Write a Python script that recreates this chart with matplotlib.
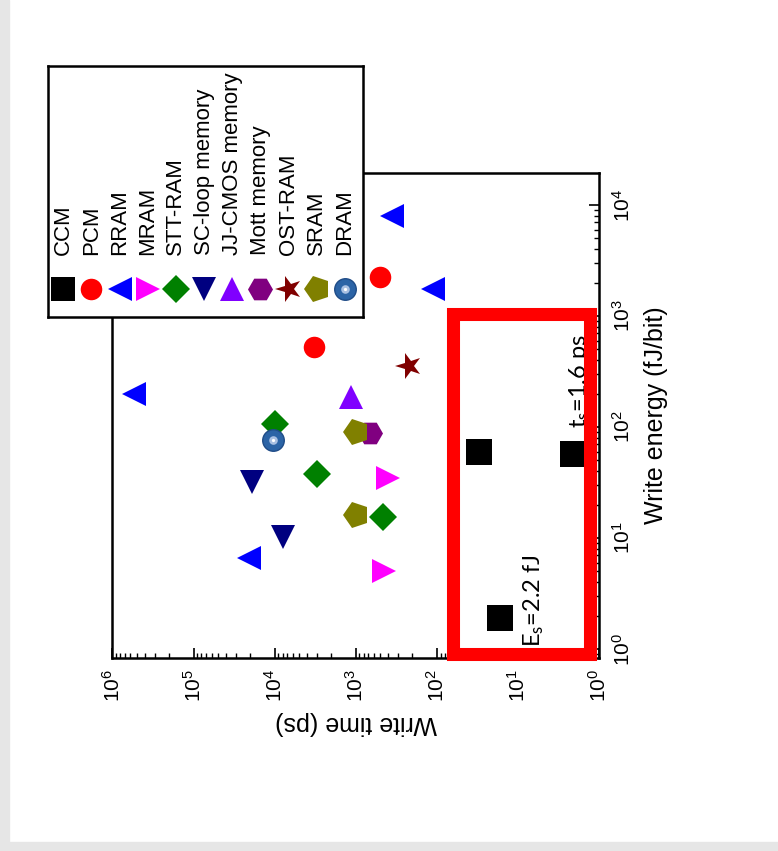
import numpy as np
import matplotlib.pyplot as plt
from matplotlib.markers import MarkerStyle
from matplotlib.patches import Rectangle
from matplotlib.ticker import LogLocator
from matplotlib.transforms import Affine2D

plt.rcParams['font.family'] = ['Liberation Sans', 'DejaVu Sans']
plt.rcParams['mathtext.default'] = 'regular'

# write time (ps) / write energy (fJ/bit) for each memory type
ccm_time = [30, 2.1, 16.6]
ccm_energy = [60, 57, 1.9]
pcm_time = [500, 3300]
pcm_energy = [2250, 525]
rram_time = [360, 113, 5.4e5, 2.1e4]
rram_energy = [8000, 1750, 200, 6.6]
mram_time = [400, 450]
mram_energy = [35, 5]
stt_time = [1.0e4, 3000, 460]
stt_energy = [106, 38, 15.5]
scloop_time = [1.9e4, 7900]
scloop_energy = [32, 10.3]
jjcmos_time = [1150]
jjcmos_energy = [186]
mott_time = [660]
mott_energy = [88]
ost_time = [220]
ost_energy = [355]
sram_time = [1000, 1000]
sram_energy = [90, 16]
dram_time = [1.05e4]
dram_energy = [77]

# highlighted region (time range, energy range)
box_time = (1.28, 64)
box_energy = (0.9, 1040)

star_l = MarkerStyle('*', transform=Affine2D().rotate_deg(90))
pent_l = MarkerStyle('p', transform=Affine2D().rotate_deg(90))

series = [
    ('CCM', ccm_time, ccm_energy, 's', 'black', 19),
    ('PCM', pcm_time, pcm_energy, 'o', 'red', 15.5),
    ('RRAM', rram_time, rram_energy, '<', 'blue', 17),
    ('MRAM', mram_time, mram_energy, '>', '#ff00ff', 17),
    ('STT-RAM', stt_time, stt_energy, 'D', 'green', 14),
    ('SC-loop memory', scloop_time, scloop_energy, 'v', '#000080', 17),
    ('JJ-CMOS memory', jjcmos_time, jjcmos_energy, '^', '#8000ff', 17),
    ('Mott memory', mott_time, mott_energy, 'H', '#800080', 18),
    ('OST-RAM', ost_time, ost_energy, star_l, '#800000', 20),
    ('SRAM', sram_time, sram_energy, pent_l, '#808000', 19),
    ('DRAM', dram_time, dram_energy, 'o', '#2c64a6', 15.5),
]


def draw_marker(ax, x, y, label, marker, color, size, **kw):
    if label == 'DRAM':
        ax.plot(x, y, ls='none', marker='o', ms=size, color=color,
                mec='#1f4c87', mew=1, **kw)
        ax.plot(x, y, ls='none', marker='o', ms=size * 0.4, color='#a9c0e2',
                mew=0, **kw)
        ax.plot(x, y, ls='none', marker='o', ms=size * 0.15, color='white',
                mew=0, **kw)
    else:
        ax.plot(x, y, ls='none', marker=marker, ms=size, color=color,
                mew=0, **kw)


fig = plt.figure(figsize=(7.78, 8.51), dpi=100)
fig.patches.append(Rectangle((0, 0), 0.012, 1, transform=fig.transFigure,
                             color='#e6e6e6', zorder=-10))
fig.patches.append(Rectangle((0, 0), 1, 0.01, transform=fig.transFigure,
                             color='#e6e6e6', zorder=-10))

ax = fig.add_axes([0.1446, 0.2268, 0.6253, 0.5699])

for label, t, e, marker, color, size in series:
    draw_marker(ax, t, e, label, marker, color, size, zorder=3)

ax.set_xscale('log')
ax.set_yscale('log')
ax.set_xlim(1e6, 1)
ax.set_ylim(0.83, 1.94e4)

for axis in (ax.xaxis, ax.yaxis):
    axis.set_major_locator(LogLocator(base=10, numticks=20))
    axis.set_minor_locator(LogLocator(base=10, subs=np.arange(2, 10), numticks=100))

ax.tick_params(which='major', direction='in', length=7, width=1.2)
ax.tick_params(which='minor', direction='in', length=3.5, width=1)
ax.tick_params(axis='x', which='both', bottom=True, top=False,
               labelrotation=90, labelsize=15, pad=8)
ax.tick_params(axis='y', which='both', left=False, right=True,
               labelleft=False, labelright=True, labelrotation=90,
               labelsize=15, pad=9)
for s in ax.spines.values():
    s.set_linewidth(1.8)

ax.set_xlabel('Write time (ps)', fontsize=18, rotation=180, labelpad=6)
ax.yaxis.set_label_position('right')
ax.set_ylabel('Write energy (fJ/bit)', fontsize=18, rotation=90, labelpad=8)

# annotations inside the red box
ax.text(1.75, 98, r'$\mathregular{t_s}$=1.6 ps', rotation=90, ha='center',
        va='bottom', fontsize=17, family=['Lato', 'DejaVu Sans'], zorder=4)
ax.text(6.4, 1.04, r'$\mathregular{E_s}$=2.2 fJ', rotation=90, ha='center',
        va='bottom', fontsize=17, family=['Lato', 'DejaVu Sans'], zorder=4)

box = Rectangle((box_time[0], box_energy[0]), box_time[1] - box_time[0],
                box_energy[1] - box_energy[0], fill=False, ec='red', lw=9.4,
                joinstyle='miter', clip_on=False, zorder=5)
ax.add_patch(box)

fig.canvas.draw()
for lbl in ax.get_yticklabels():
    lbl.set_va('center')

# legend (rotated layout: markers in a row, labels standing above)
lax = fig.add_axes([0.0617, 0.6275, 0.4049, 0.2949], zorder=10)
lax.set_xlim(0, 1)
lax.set_ylim(0, 1)
lax.set_xticks([])
lax.set_yticks([])
for s in lax.spines.values():
    s.set_linewidth(1.8)

step = 0.0895
for i, (label, t, e, marker, color, size) in enumerate(series):
    xp = 0.048 + i * step
    ms = 17 if label == 'CCM' else size
    draw_marker(lax, [xp], [0.112], label, marker, color, ms)
    lax.text(xp, 0.247, label, rotation=90, ha='center', va='bottom',
             fontsize=16)

fig.savefig('out.png', dpi=100)
